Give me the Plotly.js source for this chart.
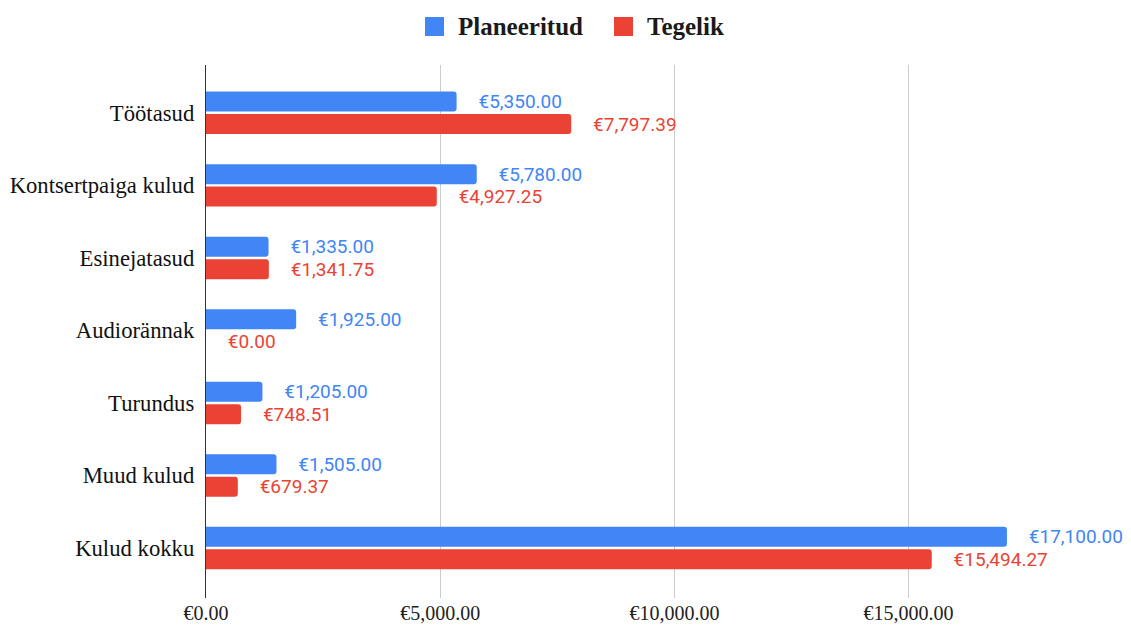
<!DOCTYPE html>
<html>
<head>
<meta charset="utf-8">
<script src="https://cdn.plot.ly/plotly-3.0.1.min.js"></script>
<style>html,body{margin:0;padding:0;background:#fff;}#chart{width:1131px;height:625px;}</style>
</head>
<body>
<div id="chart"></div>
<script>
const categories = ["Töötasud", "Kontsertpaiga kulud", "Esinejatasud", "Audiorännak", "Turundus", "Muud kulud", "Kulud kokku"];
const planned = [5350, 5780, 1335, 1925, 1205, 1505, 17100];
const actual = [7797.39, 4927.25, 1341.75, 0, 748.51, 679.37, 15494.27];
const seriesNames = ["Planeeritud", "Tegelik"];
const xTicks = [0, 5000, 10000, 15000];
const xTickText = ["€0.00", "€5,000.00", "€10,000.00", "€15,000.00"];

const BLUE = "#4285F4", RED = "#EA4335";
const L = 206, R = 21, T = 65, B = 27, WIDTH = 1131, HEIGHT = 625;
const PW = WIDTH - L - R, PH = HEIGHT - T - B;
const px2x = p => (p - L) / PW;
const py2y = p => (HEIGHT - B - p) / PH;
const PAD = "\u00a0\u00a0\u00a0\u00a0";

function barTrace(name, vals, color) {
  return {
    type: "bar", orientation: "h", name: name,
    x: vals, y: categories,
    marker: { color: color, cornerradius: 3, line: { width: 0 } },
    texttemplate: PAD + "€%{x:,.2f}",
    textposition: "outside",
    textfont: { family: "Roboto, Arial, sans-serif", size: 19, color: color },
    constraintext: "none",
    cliponaxis: false,
    hoverinfo: "skip",
    showlegend: false
  };
}

const data = [barTrace(seriesNames[0], planned, BLUE), barTrace(seriesNames[1], actual, RED)];

const legendFont = { family: "'Liberation Serif', 'Times New Roman', serif", size: 25, color: "#1a1a1a", weight: "bold" };

const layout = {
  width: WIDTH, height: HEIGHT,
  margin: { l: L, r: R, t: T, b: B, pad: 0 },
  paper_bgcolor: "#fff", plot_bgcolor: "#fff",
  barmode: "group", bargap: 0.38, bargroupgap: 0.11,
  showlegend: false,
  xaxis: {
    range: [0, 19300], tickmode: "array", tickvals: xTicks, ticktext: xTickText,
    showgrid: true, gridcolor: "#cccccc", gridwidth: 1, zeroline: false,
    showline: false, ticks: "", ticklabelstandoff: 1,
    tickfont: { family: "'Liberation Serif', 'Times New Roman', serif", size: 20, color: "#222" },
    fixedrange: true
  },
  yaxis: {
    type: "category", range: [6.69, -0.66],
    showgrid: false, zeroline: false,
    showline: true, linecolor: "#333", linewidth: 1.2,
    ticks: "", ticklabelstandoff: 6,
    tickfont: { family: "'Liberation Serif', 'Times New Roman', serif", size: 22.7, color: "#111" },
    fixedrange: true
  },
  shapes: [
    { type: "rect", xref: "paper", yref: "paper", x0: px2x(425), x1: px2x(444), y0: py2y(36), y1: py2y(17), fillcolor: BLUE, line: { width: 0 } },
    { type: "rect", xref: "paper", yref: "paper", x0: px2x(614), x1: px2x(633), y0: py2y(36), y1: py2y(17), fillcolor: RED, line: { width: 0 } }
  ],
  annotations: [
    { xref: "paper", yref: "paper", x: px2x(456), y: py2y(27), xanchor: "left", yanchor: "middle", showarrow: false, text: seriesNames[0], font: legendFont },
    { xref: "paper", yref: "paper", x: px2x(645), y: py2y(27), xanchor: "left", yanchor: "middle", showarrow: false, text: seriesNames[1], font: legendFont }
  ]
};

Plotly.newPlot("chart", data, layout, { displayModeBar: false, staticPlot: true });
</script>
</body>
</html>
